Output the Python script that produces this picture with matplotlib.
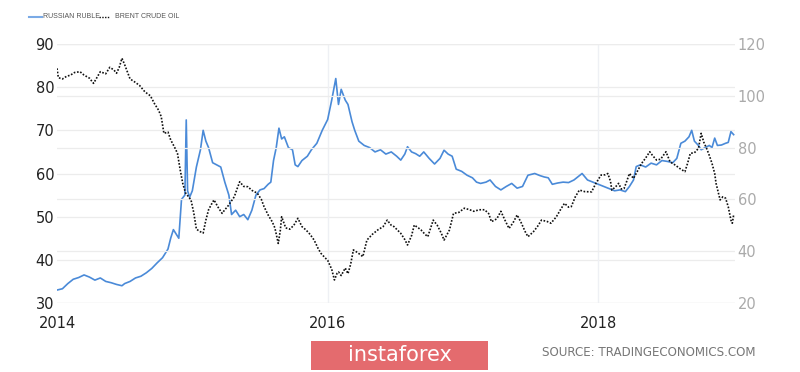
import matplotlib
matplotlib.use("Agg")
import matplotlib.pyplot as plt
from matplotlib.lines import Line2D
from matplotlib.patches import Rectangle

# ---- data (decimal years) ----
ruble_t = [2014.00, 2014.04, 2014.08, 2014.12, 2014.16, 2014.20, 2014.24, 2014.28, 2014.32, 2014.36,
           2014.40, 2014.44, 2014.48, 2014.50, 2014.54, 2014.58, 2014.62, 2014.66, 2014.70, 2014.74,
           2014.78, 2014.82, 2014.84, 2014.86, 2014.88, 2014.90, 2014.92, 2014.945, 2014.955, 2014.965,
           2014.98, 2015.00, 2015.03, 2015.06, 2015.08, 2015.10, 2015.12, 2015.15, 2015.18, 2015.21,
           2015.24, 2015.27, 2015.29, 2015.32, 2015.35, 2015.38, 2015.41, 2015.44, 2015.47, 2015.50,
           2015.53, 2015.56, 2015.58, 2015.60, 2015.62, 2015.64, 2015.66, 2015.68, 2015.71, 2015.74,
           2015.76, 2015.78, 2015.81, 2015.85, 2015.88, 2015.92, 2015.96, 2016.00, 2016.03, 2016.06,
           2016.08, 2016.10, 2016.13, 2016.15, 2016.18, 2016.20, 2016.23, 2016.27, 2016.31, 2016.35,
           2016.39, 2016.43, 2016.47, 2016.51, 2016.54, 2016.57, 2016.59, 2016.62, 2016.65, 2016.68,
           2016.71, 2016.75, 2016.79, 2016.83, 2016.86, 2016.89, 2016.92, 2016.95, 2016.99, 2017.03,
           2017.07, 2017.10, 2017.13, 2017.17, 2017.20, 2017.24, 2017.28, 2017.32, 2017.36, 2017.40,
           2017.44, 2017.48, 2017.53, 2017.57, 2017.60, 2017.63, 2017.66, 2017.70, 2017.74, 2017.78,
           2017.82, 2017.86, 2017.88, 2017.92, 2017.96, 2018.00, 2018.04, 2018.08, 2018.12, 2018.16,
           2018.20, 2018.23, 2018.26, 2018.28, 2018.31, 2018.35, 2018.39, 2018.43, 2018.47, 2018.51,
           2018.55, 2018.58, 2018.61, 2018.64, 2018.67, 2018.69, 2018.71, 2018.74, 2018.76, 2018.79,
           2018.82, 2018.84, 2018.86, 2018.88, 2018.91, 2018.94, 2018.96, 2018.98, 2019.00]
ruble_v = [33.0, 33.3, 34.5, 35.5, 35.9, 36.5, 36.0, 35.3, 35.8, 35.0,
           34.7, 34.3, 34.0, 34.5, 35.0, 35.8, 36.2, 37.0, 38.0, 39.3,
           40.5, 42.5, 45.0, 47.0, 46.0, 45.0, 54.0, 55.0, 72.4, 56.0,
           54.5, 56.0, 61.5, 65.5, 70.0, 67.5, 66.0, 62.5, 62.0, 61.5,
           58.0, 55.0, 50.5, 51.5, 50.0, 50.5, 49.3, 51.5, 55.0, 56.2,
           56.5, 57.5, 58.0, 63.0, 66.0, 70.5, 68.0, 68.5, 66.0, 65.5,
           62.0, 61.6, 63.0, 64.0, 65.5, 67.0, 70.0, 72.5, 77.0, 82.0,
           76.0, 79.5, 77.0, 76.0, 72.0, 70.0, 67.5, 66.5, 66.0, 65.0,
           65.5, 64.5, 65.0, 64.0, 63.1, 64.5, 66.2, 65.0, 64.6, 64.0,
           65.0, 63.5, 62.2, 63.5, 65.4, 64.5, 64.0, 61.0, 60.5, 59.6,
           59.0, 58.0, 57.7, 58.0, 58.5, 57.0, 56.2, 57.0, 57.7, 56.6,
           57.0, 59.6, 60.0, 59.5, 59.2, 59.0, 57.5, 57.8, 58.0, 57.9,
           58.5, 59.5, 60.0, 58.5, 58.0, 57.5, 57.0, 56.5, 56.0, 56.2,
           55.8, 57.0, 58.5, 61.6, 62.0, 61.5, 62.4, 62.0, 63.0, 62.8,
           62.5, 63.5, 67.0, 67.5, 68.5, 70.0, 67.5, 66.5, 65.5, 66.0,
           66.5, 66.0, 68.2, 66.5, 66.6, 67.0, 67.2, 69.7, 69.0]

brent_t = [2014.00, 2014.01, 2014.04, 2014.07, 2014.10, 2014.13, 2014.17, 2014.20, 2014.24, 2014.27,
           2014.30, 2014.32, 2014.36, 2014.39, 2014.42, 2014.44, 2014.46, 2014.48, 2014.50, 2014.54,
           2014.57, 2014.61, 2014.65, 2014.69, 2014.72, 2014.75, 2014.77, 2014.79, 2014.82, 2014.84,
           2014.87, 2014.89, 2014.91, 2014.93, 2014.95, 2014.99, 2015.01, 2015.03, 2015.06, 2015.08,
           2015.10, 2015.12, 2015.14, 2015.16, 2015.19, 2015.22, 2015.24, 2015.26, 2015.29, 2015.31,
           2015.33, 2015.35, 2015.38, 2015.41, 2015.44, 2015.48, 2015.51, 2015.53, 2015.56, 2015.59,
           2015.61, 2015.635, 2015.65, 2015.66, 2015.69, 2015.72, 2015.75, 2015.78, 2015.81, 2015.84,
           2015.87, 2015.90, 2015.93, 2015.95, 2015.98, 2016.00, 2016.03, 2016.05, 2016.07, 2016.08,
           2016.10, 2016.13, 2016.15, 2016.17, 2016.19, 2016.22, 2016.26, 2016.29, 2016.33, 2016.37,
           2016.41, 2016.44, 2016.47, 2016.49, 2016.54, 2016.57, 2016.59, 2016.62, 2016.64, 2016.67,
           2016.69, 2016.72, 2016.74, 2016.78, 2016.81, 2016.84, 2016.86, 2016.90, 2016.93, 2016.97,
           2017.01, 2017.05, 2017.08, 2017.12, 2017.16, 2017.19, 2017.21, 2017.25, 2017.28, 2017.31,
           2017.34, 2017.37, 2017.40, 2017.43, 2017.46, 2017.48, 2017.52, 2017.55, 2017.58, 2017.62,
           2017.65, 2017.69, 2017.72, 2017.75, 2017.78, 2017.80, 2017.83, 2017.86, 2017.90, 2017.95,
           2017.98, 2018.02, 2018.05, 2018.07, 2018.09, 2018.10, 2018.13, 2018.15, 2018.17, 2018.19,
           2018.21, 2018.23, 2018.26, 2018.29, 2018.32, 2018.35, 2018.38, 2018.40, 2018.43, 2018.46,
           2018.50, 2018.53, 2018.57, 2018.60, 2018.64, 2018.66, 2018.68, 2018.71, 2018.74, 2018.76,
           2018.78, 2018.80, 2018.82, 2018.84, 2018.86, 2018.87, 2018.89, 2018.90, 2018.92, 2018.94,
           2018.96, 2018.98, 2018.99, 2019.00]
brent_v = [110.6, 107.0, 106.5, 107.5, 108.0, 109.0, 109.3, 108.0, 106.8, 104.8,
           107.5, 109.3, 108.5, 111.0, 110.0, 108.7, 111.0, 114.5, 112.0, 106.5,
           105.5, 104.0, 101.5, 100.0, 97.0, 94.5, 92.0, 85.5, 86.0, 83.0,
           80.0, 77.8, 71.5, 66.0, 62.5, 59.8, 55.0, 48.5, 47.5, 47.0,
           52.0, 56.0, 58.0, 59.8, 57.0, 54.6, 56.0, 57.2, 59.5, 61.0,
           64.0, 66.8, 65.0, 64.9, 63.5, 62.4, 60.0, 57.2, 54.0, 51.4,
           49.0, 43.0, 48.0, 53.3, 49.0, 48.5, 50.0, 52.7, 49.5, 48.2,
           46.5, 44.3, 41.0, 39.2, 37.5, 36.5, 33.0, 28.9, 31.5, 32.0,
           30.6, 33.5, 31.3, 35.0, 40.5, 39.5, 37.9, 44.3, 46.5, 48.2,
           49.5, 52.0, 50.0, 49.5, 46.9, 44.5, 42.4, 46.0, 50.1, 49.0,
           48.2, 46.5, 45.6, 52.0, 50.0, 46.9, 44.3, 48.2, 54.6, 55.0,
           56.6, 56.0, 55.4, 56.0, 56.0, 54.5, 51.4, 52.5, 55.4, 52.0,
           48.8, 51.0, 54.0, 51.0, 47.5, 45.6, 47.5, 49.5, 52.0, 51.5,
           50.8, 53.3, 56.0, 58.5, 57.0, 57.2, 61.0, 63.6, 63.0, 62.9,
           66.0, 69.4, 69.5, 70.0, 67.0, 63.6, 65.0, 66.2, 64.0, 64.2,
           67.0, 70.0, 68.1, 71.0, 73.9, 76.0, 78.4, 77.0, 75.2, 75.5,
           78.4, 74.5, 73.2, 72.0, 70.7, 74.0, 77.8, 78.0, 79.7, 85.5,
           82.0, 79.7, 77.0, 73.9, 70.0, 66.2, 62.0, 59.8, 61.0, 60.5,
           57.2, 52.0, 50.8, 54.0]

left_ticks = [30, 40, 50, 60, 70, 80, 90]
right_ticks = [20, 40, 60, 80, 100, 120]
x_ticks = [2014, 2016, 2018]
x_labels = ["2014", "2016", "2018"]
series_names = ["RUSSIAN RUBLE", "BRENT CRUDE OIL"]

# ---- figure ----
fig = plt.figure(figsize=(8, 3.72), dpi=100)
ax = fig.add_axes([57/800, 1-303/372, (735-57)/800, (303-44)/372])
ax2 = ax.twinx()

grid_c = "#ececec"
for a in (ax, ax2):
    for s in a.spines.values():
        s.set_visible(False)
    a.tick_params(length=0)

ax.set_xlim(2014, 2019.01)
ax.set_ylim(30, 90)
ax2.set_ylim(20, 120)

for v in left_ticks:
    ax.axhline(v, color=grid_c, lw=0.9, zorder=0)
for v in right_ticks:
    ax2.axhline(v, color=grid_c, lw=0.9, zorder=0)
for v in x_ticks[1:]:
    ax.axvline(v, color="#eef0f4", lw=1.0, zorder=0)

ax.plot(ruble_t, ruble_v, color="#4a8ad8", lw=1.2, zorder=3)
ax2.plot(brent_t, brent_v, color="#111111", lw=1.2, linestyle=(0, (1, 1)), zorder=3)

ax.set_yticks(left_ticks)
ax.set_yticklabels([str(v) for v in left_ticks], fontsize=10.5, color="#222222")
ax2.set_yticks(right_ticks)
ax2.set_yticklabels([str(v) for v in right_ticks], fontsize=10.5, color="#aaaaaa")
ax.tick_params(axis="y", pad=2)
ax2.tick_params(axis="y", pad=2)
ax.set_xticks(x_ticks)
ax.set_xticklabels(x_labels, fontsize=10.5, color="#222222")
ax.tick_params(axis="x", pad=9)

# legend
ly = 1 - 17/372
fig.add_artist(Line2D([29/800, 42/800], [ly, ly], color="#7aaae6", lw=1.5))
fig.text(43/800, ly, series_names[0], fontsize=5.0, color="#555555", va="center",
         family="Liberation Sans")
fig.add_artist(Line2D([99/800, 110/800], [ly, ly], color="#111111", lw=1.0,
                      linestyle=(0, (1, 1))))
fig.text(115/800, ly, series_names[1], fontsize=5.0, color="#555555", va="center",
         family="Liberation Sans")

# watermark / source
fig.add_artist(Rectangle((311/800, 1-370/372), (488-311)/800, (370-341)/372,
                         transform=fig.transFigure, facecolor="#e46b6e", edgecolor="none"))
fig.text(400/800, 1-355/372, "instaforex", fontsize=15, color="white", ha="center", va="center")
fig.text(649/800, 1-352/372, "SOURCE: TRADINGECONOMICS.COM", fontsize=8.6, color="#777777",
         ha="center", va="center")

fig.savefig("out.png", dpi=100)
